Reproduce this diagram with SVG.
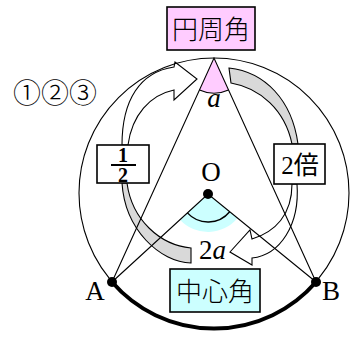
<svg xmlns="http://www.w3.org/2000/svg" width="353" height="340" viewBox="0 0 353 340">
<style>
.ln{fill:none;stroke:#000;stroke-width:1.1}
.box{stroke:#000;stroke-width:1.6}
.arw{fill:#fff;stroke:#000;stroke-width:1.1;stroke-linejoin:miter}
.band{fill:#d9d9d9;stroke:#000;stroke-width:1.1}
.lbl{font-family:"Liberation Serif","Noto Sans CJK JP",serif;font-size:27px;fill:#000}
.frac{font-family:"Liberation Serif",serif;font-size:20px;font-weight:bold;fill:#000}
.cjk{font-family:"Noto Sans CJK JP",sans-serif;font-size:26px;font-weight:300;fill:#000}
.circ{font-family:"Noto Sans CJK JP",sans-serif;font-size:27px;font-weight:300;fill:#000}
</style>
<rect width="353" height="340" fill="#fff"/>
<g id="sectors">
<path d="M214,58 L199.5,89.9 A35,35 0 0 0 228.5,89.9 Z" fill="#ffccff" stroke="none"/>
<path d="M199.5,89.9 A35,35 0 0 0 228.5,89.9" class="ln"/>
<path d="M208,194 L180,219.7 A38,38 0 0 0 237.5,218 Z" fill="#ccffff" stroke="none"/>
<path d="M187.4,212.9 A28,28 0 0 0 229.7,211.7" class="ln" style="stroke-width:1.4"/>
</g>
<g id="connectors">
<path class="arw" d="M122,145 C122,100 140,72 174,67 L175,62 L197,79 L174,100 L174,90 C150,95 132,115 128,145 Z"/>
<path class="band" d="M229,68 C265,72 292,100 298,144 L292,144 C285,110 260,88 231,83 Z"/>
<path class="band" d="M122,183 C125,230 160,262 191,263 L191,248 C160,245 132,220 127,183 Z"/>
<path class="arw" d="M292,184 C292,215 275,232 252,239 L250,230 L230,252 L252,265 L252,258 C280,255 300,225 297,184 Z"/>
<circle cx="214" cy="193" r="135" class="ln"/>
<path class="ln" d="M112,282 L214,58 L316,282 M112,282 L208,194 L316,282"/>
<path d="M112,282 A135,135 0 0 0 316,282" fill="none" stroke="#000" stroke-width="4"/>
</g>
<g id="node-top">
<rect x="167" y="7" width="88" height="43" fill="#ffccff" class="box"/>
<text x="211" y="39" class="cjk" text-anchor="middle">円周角</text>
</g>
<g id="node-bottom">
<rect x="170" y="269" width="90" height="43" fill="#ccffff" class="box"/>
<text x="215" y="301" class="cjk" text-anchor="middle">中心角</text>
</g>
<g id="node-half">
<rect x="97" y="145" width="52" height="38" fill="#fff" class="box"/>
<text x="123" y="162" class="frac" text-anchor="middle">1</text>
<line x1="111" y1="165" x2="136" y2="165" stroke="#000" stroke-width="2"/>
<text x="123" y="182" class="frac" text-anchor="middle">2</text>
</g>
<g id="node-double">
<rect x="274" y="144" width="51" height="40" fill="#fff" class="box"/>
<text x="300" y="174" class="lbl" style="font-size:25px" text-anchor="middle">2倍</text>
</g>
<g id="points">
<circle cx="208" cy="194" r="5"/>
<circle cx="112" cy="282" r="5"/>
<circle cx="316" cy="282" r="5"/>
</g>
<g id="labels">
<text x="13" y="103" class="circ" textLength="84" lengthAdjust="spacingAndGlyphs">①②③</text>
<text x="214" y="107" class="lbl" font-style="italic" text-anchor="middle">a</text>
<text x="211" y="181" class="lbl" text-anchor="middle">O</text>
<text x="199" y="259" class="lbl">2<tspan font-style="italic">a</tspan></text>
<text x="95" y="300" class="lbl" text-anchor="middle">A</text>
<text x="331" y="300" class="lbl" text-anchor="middle">B</text>
</g>
</svg>
